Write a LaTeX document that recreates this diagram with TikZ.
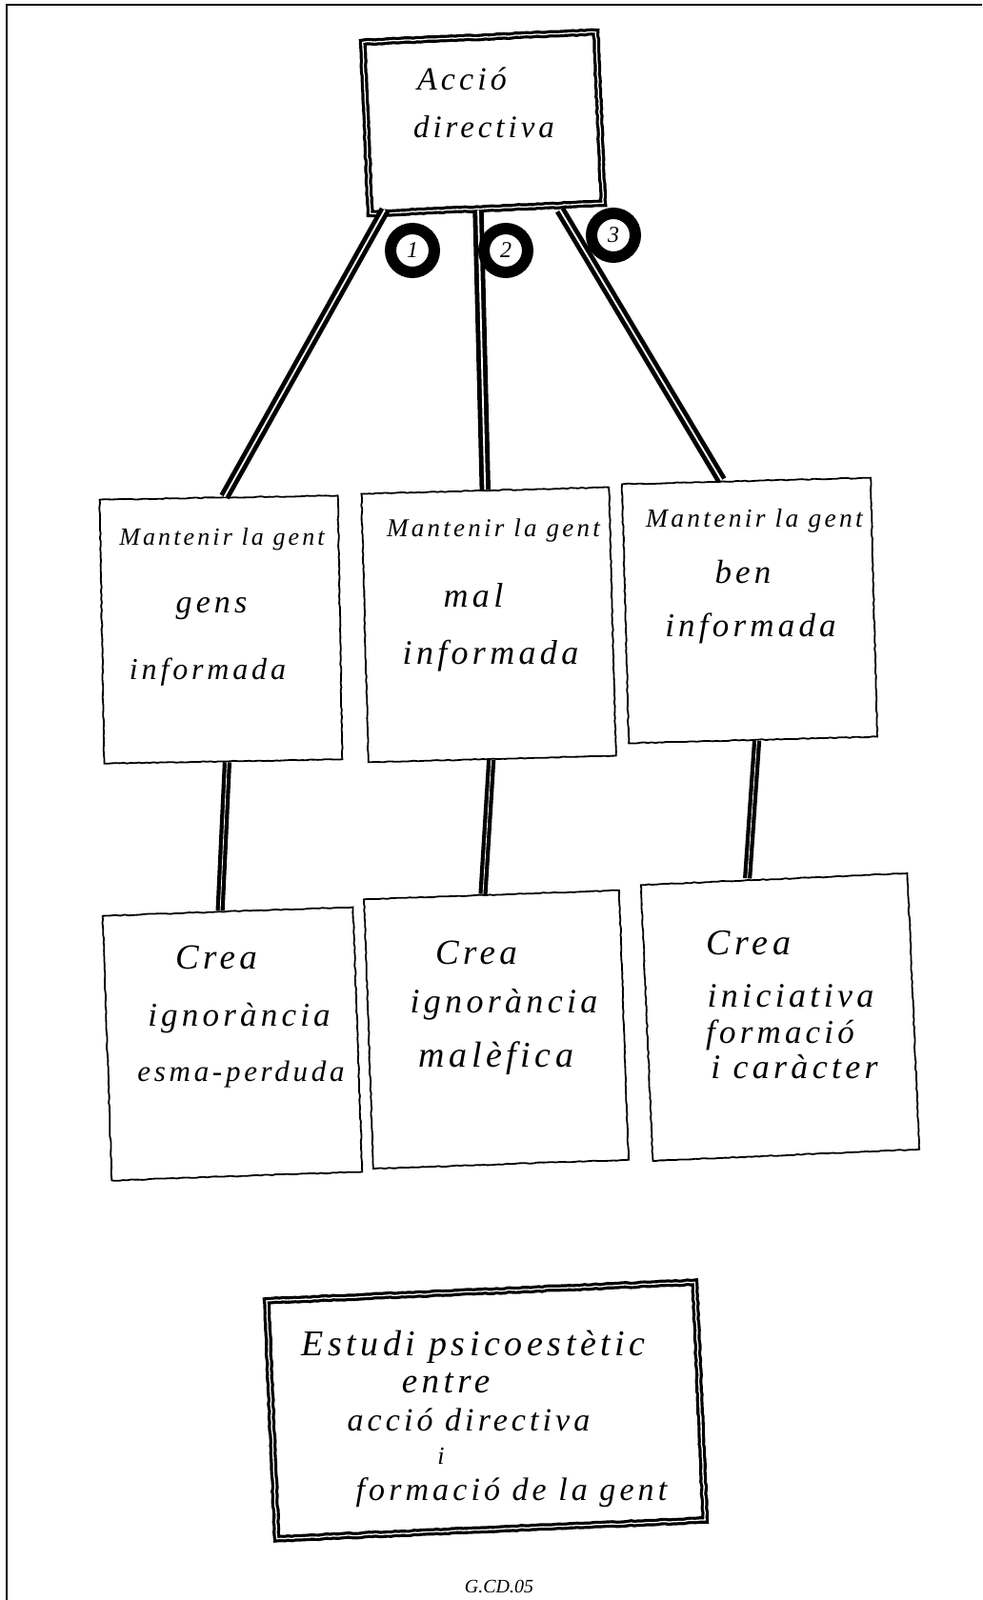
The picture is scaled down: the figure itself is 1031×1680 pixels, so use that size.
\documentclass[tikz,border=0pt]{standalone}
\usepackage{fontspec}
\setmainfont{Liberation Serif}
\newfontfamily\handfont[LetterSpace=12]{Liberation Serif}
\usetikzlibrary{decorations.pathmorphing,calc}
\newcommand\hs[1]{\fontsize{#1}{#1}\selectfont\handfont\itshape}
\begin{document}
\begin{tikzpicture}[x=1pt,y=-1pt,
  sketch/.style={decorate, decoration={random steps, segment length=4pt, amplitude=0.5pt}},
  heavybox/.style={draw, line width=3.2pt, double, double distance=1.3pt, sketch, rectangle, inner sep=0pt},
  thinbox/.style={draw, line width=1.8pt, sketch, rectangle, inner sep=0pt},
  conn/.style={line width=4.8pt, double, double distance=1.8pt},
  vconn/.style={line width=4.2pt, double, double distance=0.8pt},
  num/.style={circle, draw, fill=white, line width=12pt, minimum size=46pt, inner sep=0pt, font=\hs{24}},
  txt/.style={anchor=base, inner sep=0pt},
  frame/.style={line width=2.5pt}
]
\useasboundingbox (0,0) rectangle (1031,1680);

% page frame (top and left)
\coordinate (fTR) at (1031,5);
\coordinate (fTL) at (7,5);
\coordinate (fBL) at (7,1680);
\draw[frame] (fTR) -- (fTL) -- (fBL);

% boxes
\node[heavybox, minimum width=245pt, minimum height=180pt, rotate=2.5] (top) at (507,129) {};
\node[thinbox, minimum width=250pt, minimum height=277pt, rotate=1] (A) at (232,661) {};
\node[thinbox, minimum width=260pt, minimum height=282pt, rotate=1.5] (B) at (513,656) {};
\node[thinbox, minimum width=261pt, minimum height=272pt, rotate=1.5] (C) at (787,641) {};
\node[thinbox, minimum width=263pt, minimum height=278pt, rotate=2] (D) at (244,1096) {};
\node[thinbox, minimum width=268pt, minimum height=283pt, rotate=2] (E) at (521,1081) {};
\node[thinbox, minimum width=280pt, minimum height=290pt, rotate=2.5] (F) at (819,1068) {};
\node[heavybox, minimum width=450pt, minimum height=250pt, rotate=2.5] (S) at (510,1481) {};

% connectors
\draw[conn] ([xshift=-107pt]top.south) -- ([xshift=6pt]A.north);
\draw[conn] ([xshift=-9pt]top.south) -- (B.north);
\draw[conn] ([xshift=77pt]top.south) -- ([xshift=-26pt]C.north);
\draw[vconn] ([xshift=4pt]A.south) -- ([xshift=-8pt]D.north);
\draw[vconn] ([xshift=-1pt]B.south) -- ([xshift=-9pt]E.north);
\draw[vconn] ([xshift=4pt]C.south) -- ([xshift=-28pt]F.north);

% numbered circles
\node[num] (n1) at (433,263) {1};
\node[num] (n2) at (531,263) {2};
\node[num] (n3) at (644,247) {3};

% texts: top box
\node[txt, font=\hs{34}] (t1) at (485,95) {Acció};
\node[txt, font=\hs{33}] (t2) at (508,145) {directiva};

% middle boxes
\node[txt, font=\hs{26}] (a1) at (233,572) {Mantenir la gent};
\node[txt, font=\hs{34}] (a2) at (222,643) {gens};
\node[txt, font=\hs{32}] (a3) at (218,713) {informada};

\node[txt, font=\hs{27}] (b1) at (518,563) {Mantenir la gent};
\node[txt, font=\hs{36}] (b2) at (497,637) {mal};
\node[txt, font=\hs{36}] (b3) at (515,697) {informada};

\node[txt, font=\hs{27.5}] (c1) at (792,553) {Mantenir la gent};
\node[txt, font=\hs{35}] (c2) at (780,612) {ben};
\node[txt, font=\hs{35}] (c3) at (788,668) {informada};

% lower boxes
\node[txt, font=\hs{37}] (d1) at (227,1017) {Crea};
\node[txt, font=\hs{35}] (d2) at (251,1077) {ignorància};
\node[txt, font=\hs{31}] (d3) at (253,1135) {esma-perduda};

\node[txt, font=\hs{37}] (e1) at (500,1012) {Crea};
\node[txt, font=\hs{36}] (e2) at (529,1063) {ignorància};
\node[txt, font=\hs{38}] (e3) at (521,1120) {malèfica};

\node[txt, font=\hs{38}] (f1) at (786,1002) {Crea};
\node[txt, font=\hs{36}] (f2) at (830,1057) {iniciativa};
\node[txt, font=\hs{35}] (f3) at (819,1095) {formació};
\node[txt, font=\hs{36}] (f4) at (834,1132) {i caràcter};

% bottom box
\node[txt, font=\hs{38}] (s1) at (497,1423) {Estudi psicoestètic};
\node[txt, font=\hs{37}] (s2) at (468,1462) {entre};
\node[txt, font=\hs{34}] (s3) at (492,1502) {acció directiva};
\node[txt, font=\hs{26}] (s4) at (463,1537) {i};
\node[txt, font=\hs{34}] (s5) at (537,1575) {formació de la gent};

% caption
\node[txt, font=\fontsize{20}{20}\selectfont\itshape] (cap) at (524,1672) {G.CD.05};
\end{tikzpicture}
\end{document}
